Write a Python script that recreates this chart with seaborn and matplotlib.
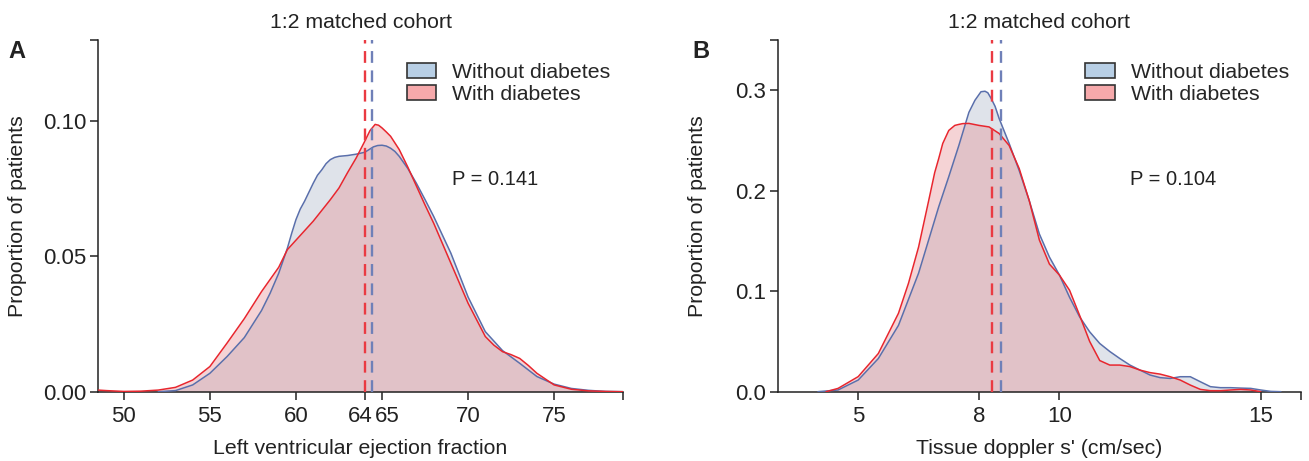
import numpy as np
import pandas as pd
import matplotlib
matplotlib.use("Agg")
import matplotlib.pyplot as plt
import matplotlib.transforms as mtransforms
from matplotlib.patches import Patch
import seaborn as sns

# ---------------- data ----------------
groups = ["Without diabetes", "With diabetes"]

# Panel A: Left ventricular ejection fraction
a_x_without = [52, 53, 54, 55, 56, 57, 58, 58.5, 59, 59.5, 59.75, 60, 60.25, 60.5, 61, 61.25,
               61.5, 61.75, 62, 62.25, 62.5, 63, 63.5, 64, 64.25, 64.5, 64.75, 65, 65.25, 65.5,
               65.75, 66, 66.5, 67, 67.5, 68, 69, 70, 71, 72, 73, 74, 75, 76, 77, 78, 79]
a_y_without = [0.0, 0.0004, 0.0025, 0.0068, 0.013, 0.020, 0.030, 0.0364, 0.0438, 0.053, 0.0585,
               0.0636, 0.0675, 0.0704, 0.077, 0.080, 0.082, 0.0843, 0.0858, 0.0866, 0.087,
               0.0873, 0.0878, 0.0885, 0.0895, 0.0905, 0.091, 0.0911, 0.0908, 0.090, 0.0888,
               0.087, 0.0825, 0.077, 0.071, 0.0648, 0.0512, 0.035, 0.0222, 0.0152, 0.0105,
               0.0056, 0.0028, 0.0012, 0.0005, 0.0001, 0.0]
a_x_with = [48.5, 49, 50, 51, 52, 53, 54, 55, 56, 57, 58, 59, 59.5, 60, 61, 62, 62.5, 63, 63.5,
            64, 64.3, 64.6, 64.8, 65, 65.25, 65.5, 66, 66.5, 67, 67.5, 68, 69, 70, 71, 71.5, 72,
            72.5, 73, 73.5, 74, 75, 76, 77, 78, 79]
a_y_with = [0.0006, 0.0004, 0.0001, 0.0002, 0.0006, 0.0016, 0.0043, 0.0093, 0.018, 0.027, 0.037,
            0.046, 0.0525, 0.056, 0.063, 0.071, 0.0753, 0.081, 0.0864, 0.0926, 0.0965, 0.0988,
            0.0985, 0.0975, 0.096, 0.0944, 0.0895, 0.083, 0.076, 0.069, 0.0623, 0.0475, 0.0327,
            0.0204, 0.0172, 0.0148, 0.0137, 0.0123, 0.0097, 0.0068, 0.0025, 0.0009, 0.0003,
            0.0001, 0.0]
a_means = [64.43, 64.0]
a_p_text = "P = 0.141"
a_xticks = [50, 55, 60, 64, 65, 70, 75]
a_yticks = [0.00, 0.05, 0.10]
a_ytick_labels = ["0.00", "0.05", "0.10"]

# Panel B: Tissue doppler s'
b_x_without = [4.0, 4.5, 5.0, 5.5, 6.0, 6.5, 7.0, 7.25, 7.5, 7.75, 7.9, 8.05, 8.15, 8.22, 8.3,
               8.4, 8.5, 8.6, 8.75, 9.0, 9.25, 9.5, 9.75, 10.0, 10.25, 10.5, 10.75, 11.0,
               11.25, 11.5, 11.75, 12.0, 12.25, 12.5, 12.75, 13.0, 13.25, 13.5, 13.75, 14.0,
               14.25, 14.5, 14.75, 15.0, 15.25, 15.5]
b_y_without = [0.0, 0.0017, 0.0116, 0.033, 0.066, 0.118, 0.184, 0.214, 0.245, 0.278, 0.29,
               0.2985, 0.299, 0.2975, 0.292, 0.284, 0.272, 0.262, 0.247, 0.22, 0.19, 0.157,
               0.134, 0.116, 0.094, 0.0745, 0.0596, 0.048, 0.040, 0.033, 0.0265, 0.0215, 0.0166,
               0.014, 0.0132, 0.0149, 0.0149, 0.0099, 0.005, 0.004, 0.004, 0.0036, 0.0033,
               0.0017, 0.0003, 0.0]
b_x_with = [4.2, 4.5, 5.0, 5.5, 6.0, 6.25, 6.5, 6.75, 6.9, 7.0, 7.1, 7.25, 7.4, 7.5, 7.6, 7.75,
            8.0, 8.25, 8.5, 8.75, 9.0, 9.25, 9.5, 9.75, 10.0, 10.25, 10.5, 10.75, 11.0, 11.25,
            11.5, 11.75, 12.0, 12.25, 12.5, 12.75, 13.0, 13.25, 13.5, 13.75, 14.0, 14.25, 14.5,
            14.75, 15.0]
b_y_with = [0.0, 0.0033, 0.015, 0.038, 0.078, 0.108, 0.144, 0.19, 0.218, 0.232, 0.247, 0.26,
            0.265, 0.266, 0.2668, 0.267, 0.265, 0.2635, 0.257, 0.245, 0.222, 0.19, 0.151,
            0.127, 0.116, 0.101, 0.076, 0.050, 0.031, 0.0265, 0.0265, 0.025, 0.0215, 0.019,
            0.0175, 0.0149, 0.0116, 0.0066, 0.0023, 0.001, 0.001, 0.0017, 0.0023, 0.0017, 0.0]
b_means = [8.55, 8.32]
b_p_text = "P = 0.104"
b_xticks = [5, 8, 10, 15]
b_yticks = [0.0, 0.1, 0.2, 0.3]
b_ytick_labels = ["0.0", "0.1", "0.2", "0.3"]

title_text = "1:2 matched cohort"
ylabel_text = "Proportion of patients"
a_xlabel = "Left ventricular ejection fraction"
b_xlabel = "Tissue doppler s' (cm/sec)"
panel_letters = ["A", "B"]

# ---------------- style ----------------
sns.set_theme(style="ticks")
plt.rcParams["font.family"] = ["Liberation Sans", "DejaVu Sans"]

line_cols = ["#5a6fab", "#e8262e"]
fill_cols = ["#c5ccd9", "#e69196"]
fill_alpha = [0.55, 0.40]
dash_cols = ["#6f80b8", "#ea3a42"]
legend_cols = ["#b8cfe5", "#f6a9ab"]
ink = "#222222"

W, H = 1309, 461
fig = plt.figure(figsize=(W / 100, H / 100), dpi=100)

def frac_box(left, right, top, bottom):
    return [left / W, 1 - bottom / H, (right - left) / W, (bottom - top) / H]

axA = fig.add_axes(frac_box(98, 623, 40, 391.7))
axB = fig.add_axes(frac_box(777.7, 1301, 40, 391.7))

panels = [
    (axA, [(a_x_without, a_y_without), (a_x_with, a_y_with)], a_means, a_p_text,
     a_xticks, [str(t) for t in a_xticks], a_yticks, a_ytick_labels, (48.5, 79.0), (0, 0.13),
     a_xlabel, 8),
    (axB, [(b_x_without, b_y_without), (b_x_with, b_y_with)], b_means, b_p_text,
     b_xticks, [str(t) for t in b_xticks], b_yticks, b_ytick_labels, (3.0, 16.0), (0, 0.35),
     b_xlabel, 692),
]

for idx, (ax, curves, means, ptxt, xt, xtl, yt, ytl, xlim, ylim, xlab, letter_x) in enumerate(panels):
    frames = []
    for g, (xs, ys) in zip(groups, curves):
        frames.append(pd.DataFrame({"x": xs, "density": ys, "group": g}))
    df = pd.concat(frames, ignore_index=True)

    for i, g in enumerate(groups):
        sub = df[df["group"] == g]
        ax.fill_between(sub["x"], sub["density"], 0, color=fill_cols[i], alpha=fill_alpha[i],
                        lw=0, zorder=1 + i)
    sns.lineplot(data=df, x="x", y="density", hue="group", hue_order=groups,
                 palette=line_cols, linewidth=1.1, ax=ax, legend=False, sort=False,
                 estimator=None, zorder=4)

    for i, m in enumerate(means):
        ax.axvline(m, color=dash_cols[i], lw=1.7, ls=(0, (5, 3.2)), zorder=5)

    ax.set_xlim(*xlim)
    ax.set_ylim(*ylim)
    ax.set_xticks(list(xt) + [xlim[1]])
    ax.set_xticklabels(xtl + [""])
    ax.set_yticks(list(yt) + [ylim[1]])
    ax.set_yticklabels(ytl + [""])
    ax.tick_params(axis="both", colors=ink, labelsize=16, width=1.1, length=5.5,
                   direction="out")
    ax.tick_params(axis="x", pad=5)
    ax.tick_params(axis="y", pad=3)
    for s in ["top", "right"]:
        ax.spines[s].set_visible(False)
    for s in ["left", "bottom"]:
        ax.spines[s].set_color(ink)
        ax.spines[s].set_linewidth(1.1)

    ax.set_xlabel(xlab, fontsize=15.3, color=ink)
    ax.set_ylabel(ylabel_text, fontsize=15.3, color=ink)
    ax.xaxis.set_label_coords(0.5, -0.135)
    ax.yaxis.set_label_coords(-0.135, 0.5)
    ax.set_title(title_text, fontsize=15.3, color=ink, pad=9)

    handles = [Patch(facecolor=legend_cols[i], edgecolor="#333333", linewidth=1.2,
                     label=groups[i]) for i in range(2)]
    ax.legend(handles=handles, loc="upper left", bbox_to_anchor=(0.588, 0.935),
              frameon=False, fontsize=15.3, handlelength=1.4, handleheight=0.72,
              handletextpad=0.75, labelspacing=0.15, borderpad=0, borderaxespad=0)

    ax.text(0.674, 0.602, ptxt, transform=ax.transAxes, fontsize=14.5, color=ink,
            ha="left", va="center")

    fig.text(letter_x / W, 1 - 51 / H, panel_letters[idx], fontsize=17, fontweight="bold",
             color=ink, ha="left", va="center")

# nudge the crowded "64" / "65" tick labels apart, as in the reference
for lab in axA.get_xticklabels():
    if lab.get_text() == "64":
        lab.set_transform(lab.get_transform() + mtransforms.ScaledTranslation(-5 / 100, 0, fig.dpi_scale_trans))
    elif lab.get_text() == "65":
        lab.set_transform(lab.get_transform() + mtransforms.ScaledTranslation(5 / 100, 0, fig.dpi_scale_trans))

fig.savefig("out.png", dpi=100)
